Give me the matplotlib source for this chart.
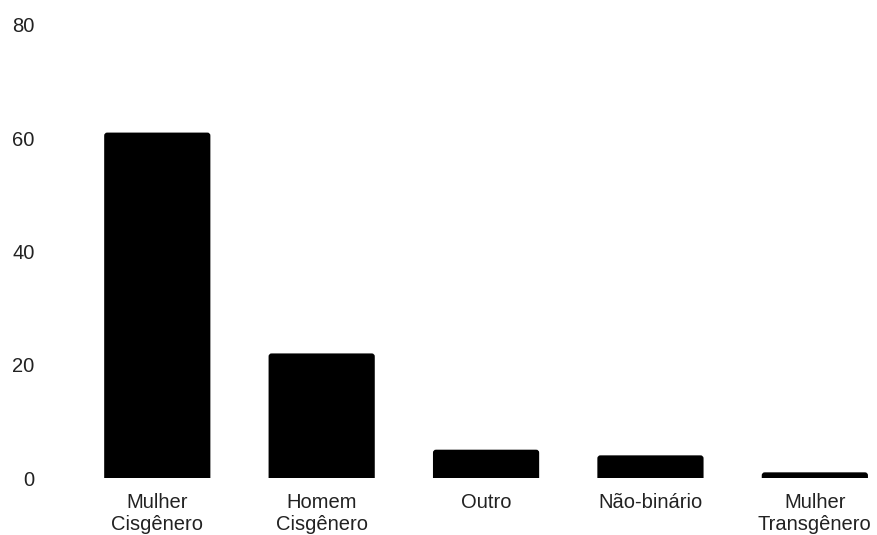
import matplotlib.pyplot as plt
from matplotlib.patches import FancyBboxPatch

categories = ['Mulher\nCisgênero', 'Homem\nCisgênero', 'Outro', 'Não-binário', 'Mulher\nTransgênero']
counts = [61, 22, 5, 4, 1]
yticks = [0, 20, 40, 60, 80]

plt.rcParams['font.family'] = ['Liberation Sans', 'DejaVu Sans']

W, H = 878, 535
fig = plt.figure(figsize=(W / 100, H / 100), dpi=100)
# axes box in pixels: left 40, right 878, bottom y=478, top y=25
ax = fig.add_axes([40 / W, (H - 478) / H, (W - 40) / W, (478 - 25) / H])

x = list(range(len(categories)))
bars = ax.bar(x, counts, width=0.646, color='black')

ax.set_xlim(-(157 - 40) / 164, 4 + (878 - 815) / 164)
ax.set_ylim(0, 80)

# rounded tops: swap each bar for a rounded box that starts below 0 (clipped)
px_x = 164.0          # pixels per x unit
px_y = 453.0 / 80     # pixels per y unit
r = 3.0
for b in bars:
    bx, by, bw, bh = b.get_x(), b.get_y(), b.get_width(), b.get_height()
    b.set_visible(False)
    ext = 2.0
    rb = FancyBboxPatch((bx, by - ext), bw, bh + ext,
                        boxstyle=f"round,pad=0,rounding_size={r / px_x}",
                        mutation_aspect=px_x / px_y,
                        facecolor='black', edgecolor='none')
    ax.add_patch(rb)

ax.set_xticks(x)
ax.set_xticklabels(categories, linespacing=1.15)
ax.set_yticks(yticks)
ax.tick_params(axis='both', length=0, labelsize=14.5, colors='#222222')
ax.tick_params(axis='x', pad=11)
ax.tick_params(axis='y', pad=4)
for s in ax.spines.values():
    s.set_visible(False)

fig.savefig('out.png', dpi=100)
